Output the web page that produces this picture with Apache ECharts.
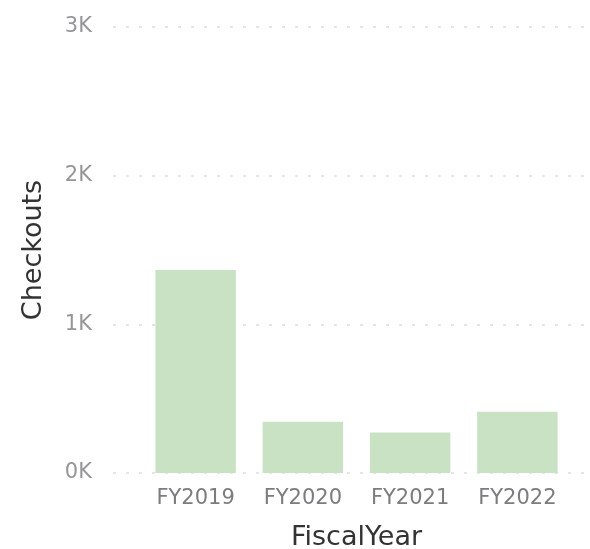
<!DOCTYPE html>
<html>
<head>
<meta charset="utf-8">
<script src="https://cdn.jsdelivr.net/npm/echarts@6/dist/echarts.min.js"></script>
<style>
  html, body { margin: 0; padding: 0; background: #fff; }
  #chart { width: 590px; height: 549px; }
</style>
</head>
<body>
<div id="chart"></div>
<script>
// Checkouts per fiscal year
const fiscalYears = ['FY2019', 'FY2020', 'FY2021', 'FY2022'];
const checkouts = [1366, 345, 272, 412];
const yTicks = [0, 1000, 2000, 3000];

const FONT = '"DejaVu Sans", "Noto Sans", sans-serif';
const yMax = yTicks[yTicks.length - 1];
const yStep = yTicks[1] - yTicks[0];

const chart = echarts.init(document.getElementById('chart'), null, { renderer: 'canvas' });

chart.setOption({
  animation: false,
  grid: [
    // wide grid carrying the value axis and dotted gridlines
    { left: 113, right: 0, top: 27, bottom: 76, outerBoundsMode: 'none', containLabel: false },
    // inner grid carrying the category bars
    { left: 142, right: 19, top: 27, bottom: 76, outerBoundsMode: 'none', containLabel: false }
  ],
  xAxis: [
    { gridIndex: 0, type: 'value', min: 0, max: 1, show: false },
    {
      gridIndex: 1,
      type: 'category',
      data: fiscalYears,
      axisLine: { show: false },
      axisTick: { show: false },
      axisLabel: { color: '#7c7c80', fontFamily: FONT, fontSize: 21, margin: 15 },
      name: 'FiscalYear',
      nameLocation: 'middle',
      nameGap: 51,
      nameTextStyle: { color: '#333', fontFamily: FONT, fontSize: 27 }
    }
  ],
  yAxis: [
    {
      gridIndex: 0,
      type: 'value',
      min: 0,
      max: yMax,
      interval: yStep,
      axisLine: { show: false },
      axisTick: { show: false },
      axisLabel: {
        color: '#96969a',
        fontFamily: FONT,
        fontSize: 21,
        margin: 21,
        formatter: v => (v / 1000) + 'K'
      },
      splitLine: { lineStyle: { color: '#e6e6e6', width: 2, type: [3, 10] } },
      name: 'Checkouts',
      nameLocation: 'middle',
      nameGap: 66,
      nameRotate: 90,
      nameTextStyle: { color: '#333', fontFamily: FONT, fontSize: 27 }
    },
    {
      gridIndex: 1,
      type: 'value',
      min: 0,
      max: yMax,
      interval: yStep,
      show: false,
      splitLine: { show: false }
    }
  ],
  series: [
    {
      type: 'bar',
      xAxisIndex: 1,
      yAxisIndex: 1,
      data: checkouts,
      barCategoryGap: '25%',
      itemStyle: { color: '#c9e2c4' }
    }
  ]
});
</script>
</body>
</html>
